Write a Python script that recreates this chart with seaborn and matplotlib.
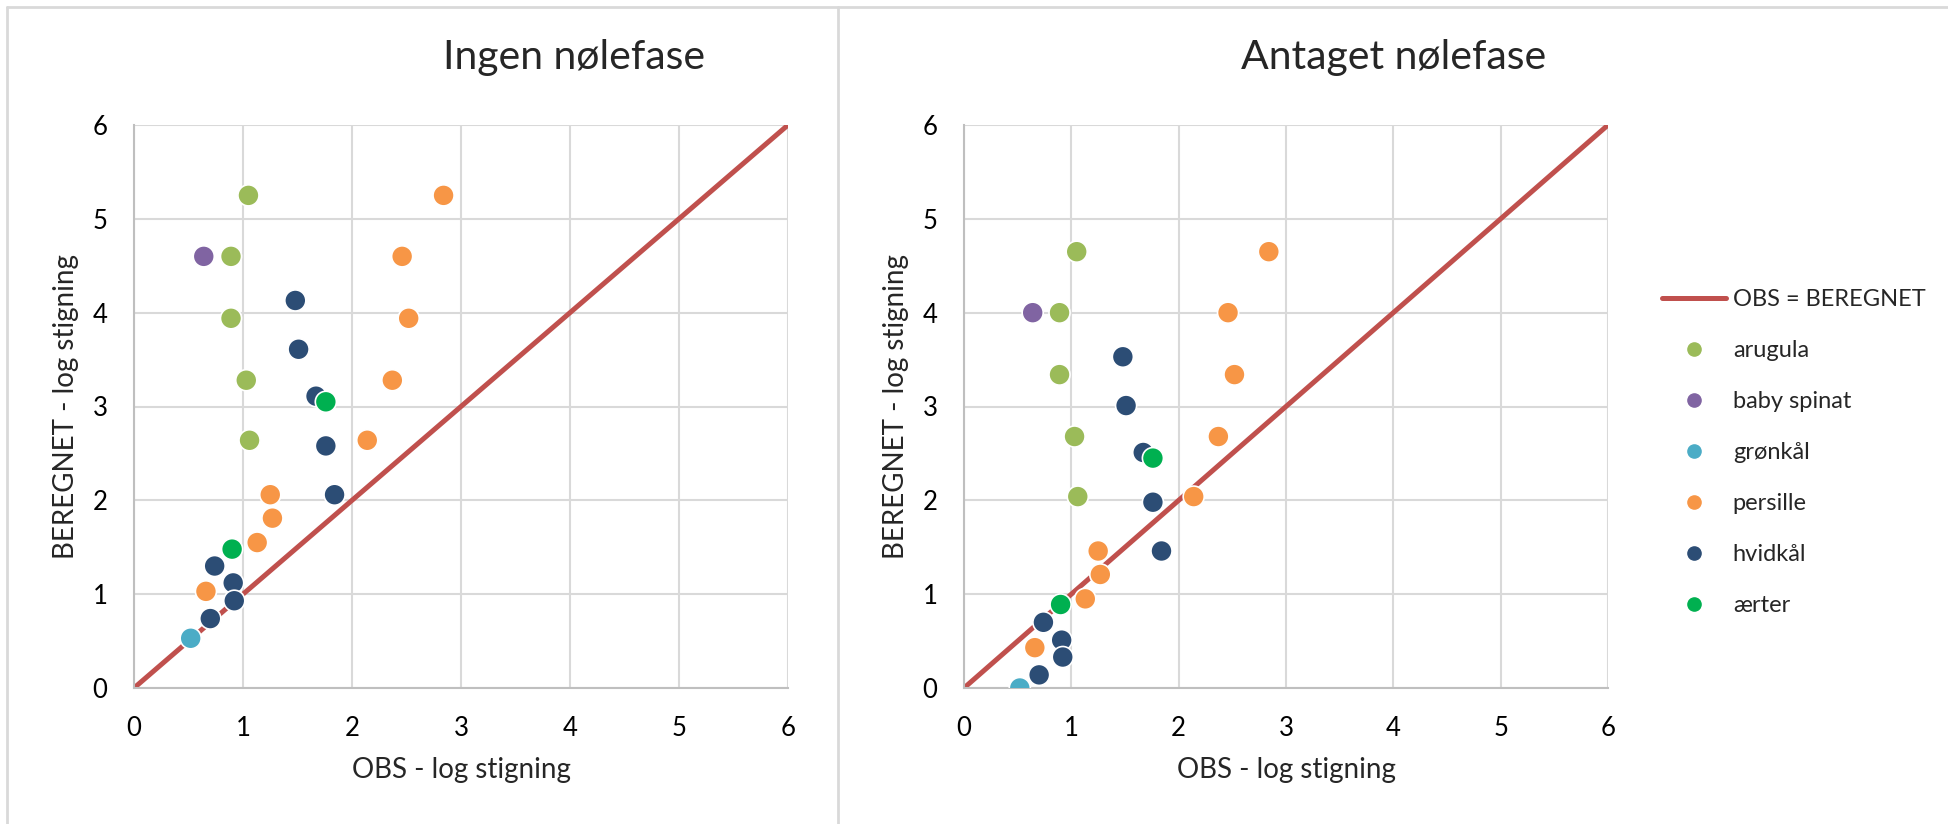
import pandas as pd
import seaborn as sns
import matplotlib.pyplot as plt
from matplotlib.lines import Line2D

# data (x = OBS, y = BEREGNET)
crops = ["arugula", "baby spinat", "grønkål", "persille", "hvidkål", "ærter"]
colors = ["#9BBB59", "#8064A2", "#4BACC6", "#F79646", "#2C4D75", "#00B050"]

obs_arugula = [1.05, 0.89, 0.89, 1.03, 1.06]
obs_spinat = [0.64]
obs_gronkal = [0.52]
obs_persille = [2.84, 2.46, 2.52, 2.37, 2.14, 1.25, 1.27, 1.13, 0.66]
obs_hvidkal = [1.48, 1.51, 1.67, 1.76, 1.84, 0.74, 0.91, 0.92, 0.70]
obs_aerter = [1.76, 0.90]

# Ingen nølefase
ingen_arugula = [5.25, 4.60, 3.94, 3.28, 2.64]
ingen_spinat = [4.60]
ingen_gronkal = [0.53]
ingen_persille = [5.25, 4.60, 3.94, 3.28, 2.64, 2.06, 1.81, 1.55, 1.03]
ingen_hvidkal = [4.13, 3.61, 3.11, 2.58, 2.06, 1.30, 1.12, 0.93, 0.74]
ingen_aerter = [3.05, 1.48]

# Antaget nølefase
antaget_arugula = [4.65, 4.00, 3.34, 2.68, 2.04]
antaget_spinat = [4.00]
antaget_gronkal = [0.00]
antaget_persille = [4.65, 4.00, 3.34, 2.68, 2.04, 1.46, 1.21, 0.95, 0.43]
antaget_hvidkal = [3.53, 3.01, 2.51, 1.98, 1.46, 0.70, 0.51, 0.33, 0.14]
antaget_aerter = [2.45, 0.89]

diag = [0, 6]
ticks = [0, 1, 2, 3, 4, 5, 6]

obs_all = [obs_arugula, obs_spinat, obs_gronkal, obs_persille, obs_hvidkal, obs_aerter]
ingen_all = [ingen_arugula, ingen_spinat, ingen_gronkal, ingen_persille, ingen_hvidkal, ingen_aerter]
antaget_all = [antaget_arugula, antaget_spinat, antaget_gronkal, antaget_persille, antaget_hvidkal, antaget_aerter]


def make_df(ys):
    rows = []
    for crop, xs, yv in zip(crops, obs_all, ys):
        for a, b in zip(xs, yv):
            rows.append({"obs": a, "beregnet": b, "crop": crop})
    return pd.DataFrame(rows)


sns.set_style("white")
plt.rcParams["font.family"] = ["Lato", "DejaVu Sans"]
palette = dict(zip(crops, colors))

fig = plt.figure(figsize=(19.49, 8.24), dpi=100)
ax1 = fig.add_axes([134 / 1949, 136 / 824, 654 / 1949, 563 / 824])
ax2 = fig.add_axes([964 / 1949, 136 / 824, 644 / 1949, 563 / 824])

for ax, ys, title, tx in [(ax1, ingen_all, "Ingen nølefase", 574),
                          (ax2, antaget_all, "Antaget nølefase", 1394)]:
    ax.plot(diag, diag, color="#C0504D", lw=3.6, solid_capstyle="butt", zorder=2)
    sns.scatterplot(data=make_df(ys), x="obs", y="beregnet", hue="crop",
                    palette=palette, s=230, edgecolor="white", linewidth=1.2,
                    legend=False, ax=ax, zorder=3)
    ax.set_xlim(0, 6)
    ax.set_ylim(0, 6)
    ax.set_xticks(ticks)
    ax.set_yticks(ticks)
    ax.grid(True, color="#D9D9D9", lw=1.5)
    ax.set_axisbelow(True)
    for side in ["top", "right"]:
        ax.spines[side].set_visible(False)
    for side in ["left", "bottom"]:
        ax.spines[side].set_color("#BFBFBF")
        ax.spines[side].set_linewidth(1.5)
    ax.tick_params(length=0, labelsize=18.5, colors="black")
    ax.tick_params(axis="x", pad=20)
    ax.tick_params(axis="y", pad=19)
    ax.set_xlabel("OBS - log stigning", fontsize=20, labelpad=12)
    ax.set_ylabel("BEREGNET - log stigning", fontsize=20, labelpad=10)
    fig.text(tx / 1949, 1 - 58 / 824, title, fontsize=29.5, ha="center", va="center")

# frame lines like the Excel chart areas
fig.add_artist(Line2D([7 / 1949, 1], [1 - 7 / 824] * 2, color="#D9D9D9", lw=2))
fig.add_artist(Line2D([7 / 1949] * 2, [0, 1 - 7 / 824], color="#D9D9D9", lw=2))
fig.add_artist(Line2D([838 / 1949] * 2, [0, 1 - 7 / 824], color="#D9D9D9", lw=2))

handles = [Line2D([0], [0], color="#C0504D", lw=3.6, solid_capstyle="round")]
for c in colors:
    handles.append(Line2D([0], [0], marker="o", ls="", markersize=9.5,
                          markerfacecolor=c, markeredgecolor=c))
fig.legend(handles, ["OBS = BEREGNET"] + crops, loc="upper left",
           bbox_to_anchor=(1662 / 1949, 1 - 289 / 824), frameon=False,
           fontsize=17, handlelength=2.7, handletextpad=0.3,
           labelspacing=1.27, borderpad=0, borderaxespad=0)

fig.savefig("out.png", dpi=100)
